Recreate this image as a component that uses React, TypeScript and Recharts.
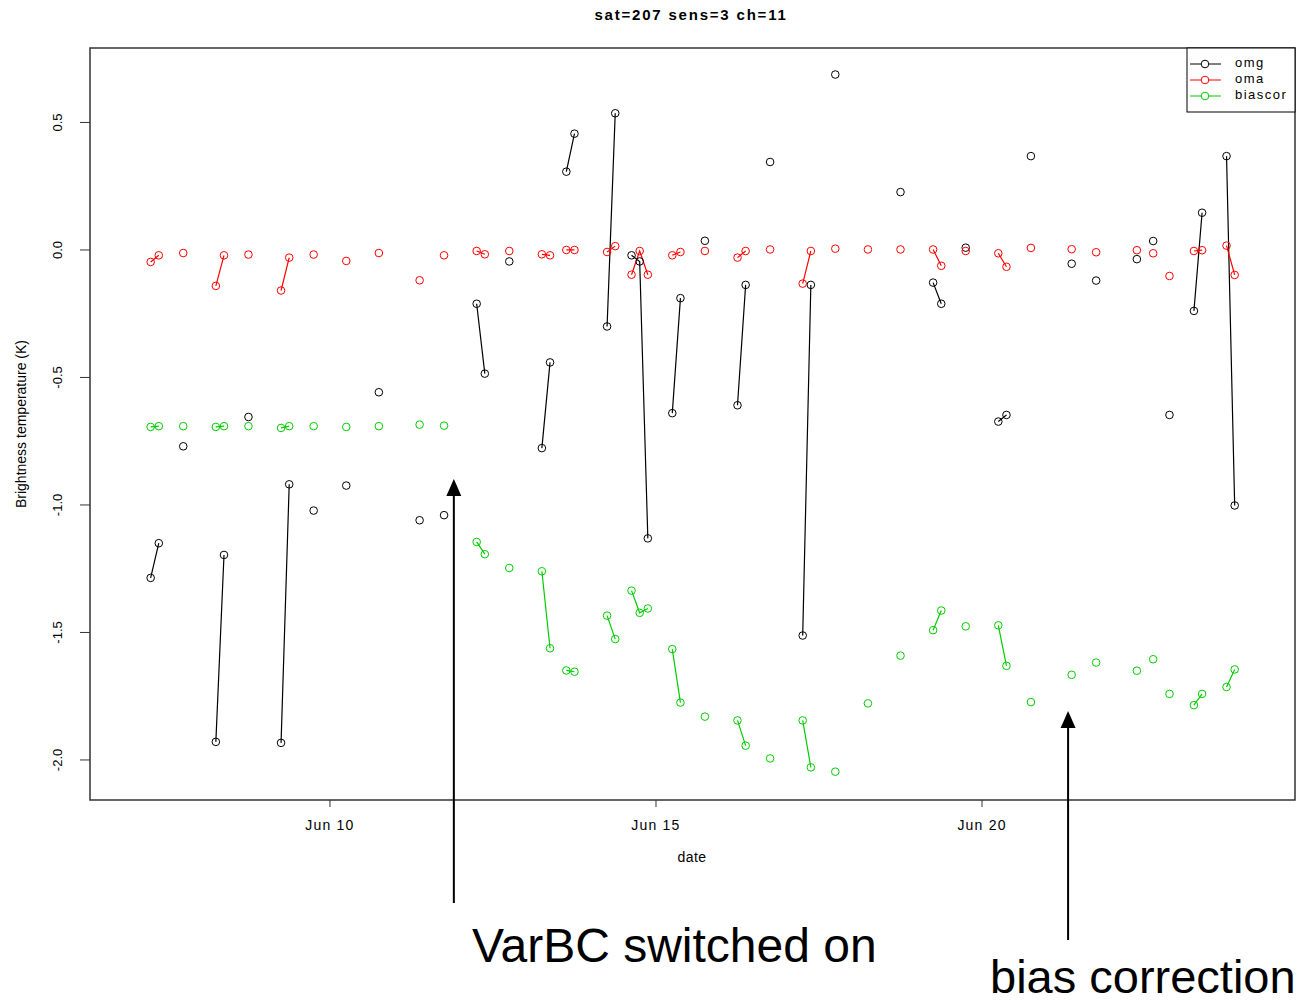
import React from 'react';
import { LineChart, Line, XAxis, YAxis, ReferenceArea } from 'recharts';

// observation times, June day (fractional, 3-hourly slots)
const days = [
  7.25, 7.375, 7.75, 8.25, 8.375, 8.75, 9.25, 9.375, 9.75, 10.25, 10.75,
  11.375, 11.75, 12.25, 12.375, 12.75, 13.25, 13.375, 13.625, 13.75,
  14.25, 14.375, 14.625, 14.75, 14.875, 15.25, 15.375, 15.75, 16.25, 16.375,
  16.75, 17.25, 17.375, 17.75, 18.25, 18.75, 19.25, 19.375, 19.75, 20.25,
  20.375, 20.75, 21.375, 21.75, 22.375, 22.625, 22.875, 23.25, 23.375, 23.75, 23.875,
];

const omg = [
  -1.286, -1.15, -0.77, -1.929, -1.196, -0.655, -1.933, -0.919, -1.022, -0.924, -0.558,
  -1.06, -1.04, -0.211, -0.485, -0.045, -0.777, -0.441, 0.307, 0.456,
  -0.3, 0.536, -0.021, -0.045, -1.131, -0.64, -0.189, 0.036, -0.609, -0.137,
  0.345, -1.512, -0.137, 0.688, null, 0.227, -0.128, -0.211, 0.009, -0.673,
  -0.647, 0.368, -0.054, -0.12, -0.036, 0.035, -0.647, -0.239, 0.146, 0.368, -1.002,
];

const oma = [
  -0.047, -0.021, -0.012, -0.141, -0.021, -0.018, -0.159, -0.03, -0.018, -0.043, -0.012,
  -0.119, -0.021, -0.004, -0.017, -0.004, -0.017, -0.021, 0.0, 0.0,
  -0.008, 0.015, -0.097, -0.004, -0.097, -0.021, -0.008, -0.004, -0.03, -0.004,
  0.002, -0.132, -0.004, 0.005, 0.002, 0.002, 0.002, -0.062, -0.004, -0.013,
  -0.066, 0.008, 0.003, -0.009, -0.001, -0.013, -0.102, -0.004, -0.001, 0.017, -0.098,
];

const biascor = [
  -0.694, -0.691, -0.691, -0.694, -0.691, -0.691, -0.698, -0.691, -0.691, -0.694, -0.691,
  -0.685, -0.689, -1.145, -1.193, -1.247, -1.26, -1.562, -1.649, -1.654,
  -1.434, -1.526, -1.336, -1.423, -1.406, -1.565, -1.775, -1.83, -1.845, -1.944,
  -1.994, -1.845, -2.029, -2.046, -1.778, -1.591, -1.491, -1.414, -1.476, -1.472,
  -1.631, -1.773, -1.666, -1.618, -1.65, -1.605, -1.741, -1.785, -1.741, -1.714, -1.645,
];

const dateTicks = [10, 15, 20];
const valueTicks = [-2, -1.5, -1, -0.5, 0, 0.5];
const seriesNames = ['omg', 'oma', 'biascor'];
const seriesColors = ['#000000', '#ff0000', '#00cd00'];

const varbcDay = 11.9;
const biasDay = 21.32;

const X_DOMAIN: [number, number] = [6.32, 24.80];
const Y_DOMAIN: [number, number] = [-2.157, 0.792];
const FONT = '"Liberation Sans", Arial, sans-serif';

// null row between points that are not consecutive 3-hourly slots -> line break
const rows: any[] = [];
days.forEach((d, i) => {
  if (i > 0 && d - days[i - 1] > 0.13) {
    rows.push({ t: (d + days[i - 1]) / 2, omg: null, oma: null, biascor: null });
  }
  rows.push({ t: d, omg: omg[i], oma: oma[i], biascor: biascor[i] });
});

const PLOT = { left: 90, top: 48, width: 1205, height: 752 };
const xPix = (d: number) =>
  PLOT.left + ((d - X_DOMAIN[0]) / (X_DOMAIN[1] - X_DOMAIN[0])) * PLOT.width;

const XTick = (props: any) => {
  const { x, y, payload } = props;
  return (
    <text x={x} y={y + 21} textAnchor="middle" fontSize={14} letterSpacing={1.2} fill="#000" fontFamily={FONT}>
      {`Jun ${payload.value}`}
    </text>
  );
};

const YTick = (props: any) => {
  const { x, y, payload } = props;
  const tx = x - 16;
  return (
    <text
      x={tx}
      y={y}
      textAnchor="middle"
      fontSize={13}
      fill="#000"
      fontFamily={FONT}
      transform={`rotate(-90, ${tx}, ${y})`}
    >
      {payload.value.toFixed(1)}
    </text>
  );
};

const Arrow = ({ day, y1, y2 }: { day: number; y1: number; y2: number }) => {
  const x = xPix(day);
  return (
    <g>
      <line x1={x} y1={y1} x2={x} y2={y2 + 15} stroke="#000" strokeWidth={2} />
      <polygon points={`${x},${y2} ${x - 7.5},${y2 + 17} ${x + 7.5},${y2 + 17}`} fill="#000" />
    </g>
  );
};

export default function App() {
  return (
    <div style={{ position: 'absolute', left: 0, top: 0, width: 1311, height: 1002, overflow: 'hidden', background: '#fff' }}>
      <LineChart width={1311} height={1000} data={rows} margin={{ top: 48, right: 16, bottom: 140, left: 0 }}>
        <ReferenceArea
          x1={X_DOMAIN[0]}
          x2={X_DOMAIN[1]}
          y1={Y_DOMAIN[0]}
          y2={Y_DOMAIN[1]}
          fill="none"
          stroke="#333"
          strokeWidth={1.5}
          fillOpacity={0}
        />
        <XAxis
          dataKey="t"
          type="number"
          domain={X_DOMAIN}
          allowDataOverflow
          ticks={dateTicks}
          height={60}
          tickSize={7}
          axisLine={false}
          tickLine={{ stroke: '#333' }}
          tick={<XTick />}
        />
        <YAxis
          type="number"
          domain={Y_DOMAIN}
          allowDataOverflow
          ticks={valueTicks}
          width={90}
          tickSize={10}
          axisLine={false}
          tickLine={{ stroke: '#333' }}
          tick={<YTick />}
        />
        {seriesNames.map((name, i) => (
          <Line
            key={name}
            dataKey={name}
            type="linear"
            stroke={seriesColors[i]}
            strokeWidth={1.2}
            connectNulls={false}
            dot={{ r: 3.8, fill: 'none', stroke: seriesColors[i], strokeWidth: 1 }}
            activeDot={false}
            isAnimationActive={false}
          />
        ))}
      </LineChart>
      <svg
        width={1311}
        height={1002}
        style={{ position: 'absolute', left: 0, top: 0, pointerEvents: 'none' }}
        fontFamily={FONT}
      >
        <text x={691} y={20} textAnchor="middle" fontSize={15} fontWeight="bold" letterSpacing={1.8}>
          sat=207 sens=3 ch=11
        </text>
        <text x={692} y={862} textAnchor="middle" fontSize={14} letterSpacing={0.5}>
          date
        </text>
        <text x={26} y={424} textAnchor="middle" fontSize={14} transform="rotate(-90, 26, 424)">
          Brightness temperature (K)
        </text>

        <rect x={1187} y={48} width={108} height={64} fill="#fff" stroke="#000" strokeWidth={1} />
        {seriesNames.map((name, i) => {
          const y = 64 + i * 16;
          return (
            <g key={name}>
              <line x1={1190} y1={y} x2={1221} y2={y} stroke={seriesColors[i]} strokeWidth={1} />
              <circle cx={1205} cy={y} r={3.8} fill="#fff" stroke={seriesColors[i]} strokeWidth={1} />
              <text x={1235} y={y + 3} fontSize={13} letterSpacing={1.5}>
                {name}
              </text>
            </g>
          );
        })}

        <Arrow day={varbcDay} y1={903} y2={479} />
        <Arrow day={biasDay} y1={940} y2={711} />
        <text x={472} y={962} fontSize={48}>
          VarBC switched on
        </text>
        <text x={990} y={993} fontSize={47}>
          bias correction
        </text>
      </svg>
    </div>
  );
}
